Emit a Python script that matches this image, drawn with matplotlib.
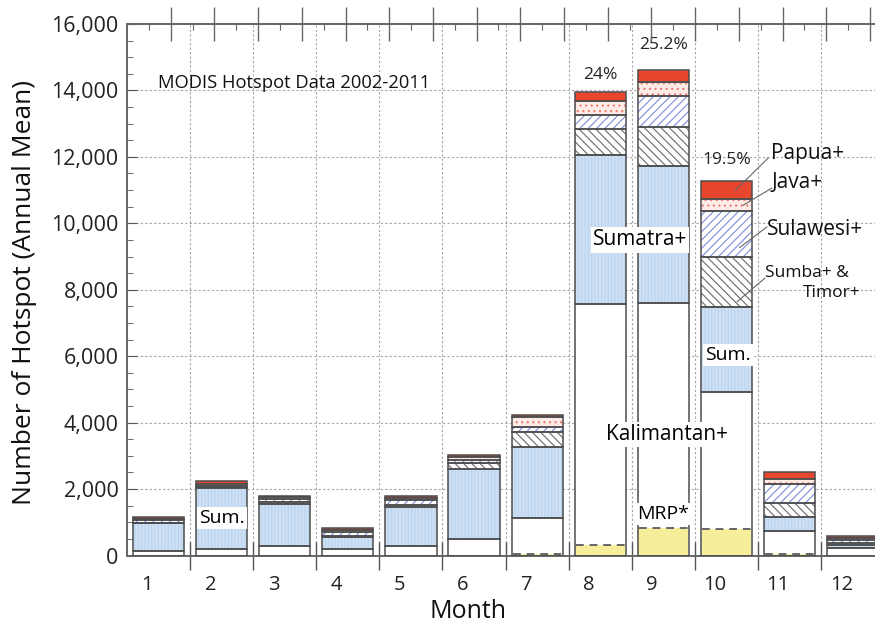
#!/usr/bin/env python3

import numpy as np
from matplotlib import pyplot as plt
from matplotlib.transforms import blended_transform_factory

plt.rcParams["font.family"] = ["Open Sans", "DejaVu Sans"]
plt.rcParams["hatch.linewidth"] = 0.8

months = np.arange(1, 13)
month_labels = [str(m) for m in months]

# annual mean hotspot counts per region (stacked from the bottom up)
kalimantan = [140, 200, 290, 200, 300, 500, 1130, 7580, 7610, 4930, 740, 230]
sumatra = [830, 1840, 1260, 360, 1170, 2110, 2140, 4470, 4110, 2560, 420, 90]
sumba_timor = [10, 20, 60, 30, 60, 180, 450, 780, 1170, 1510, 420, 60]
sulawesi = [90, 40, 90, 120, 150, 90, 160, 420, 940, 1360, 580, 90]
java = [30, 60, 60, 60, 60, 90, 300, 430, 420, 360, 150, 60]
papua = [60, 90, 30, 60, 50, 60, 60, 270, 360, 540, 210, 60]
# MRP hotspots (part of Kalimantan)
mrp = [0, 0, 0, 0, 0, 0, 50, 320, 830, 800, 50, 0]
mrp_share = {8: "24%", 9: "25.2%", 10: "19.5%"}

BAR_W = 0.81
EDGE = "#4d4d4d"

layers = [
    (kalimantan, "white", None, "white"),
    (sumatra, "#cde0f4", "|||||", "#bcd3ef"),
    (sumba_timor, "white", "\\\\\\\\", "#6a6a6a"),
    (sulawesi, "white", "////", "#7b8ad8"),
    (java, "#fdebe7", "...", "#ec7a6c"),
    (papua, "#e8472d", None, "#e8472d"),
]

fig = plt.figure(figsize=(8.75, 6.26), dpi=100)
ax = fig.add_axes([127 / 875, 1 - 555.5 / 626, 1 - 127 / 875, 531.5 / 626])

bottom = np.zeros(len(months))
tops = []
for vals, face, hatch, hcol in layers:
    vals = np.asarray(vals, dtype=float)
    ax.bar(months, vals, BAR_W, bottom=bottom, color=face, edgecolor=hcol,
           hatch=hatch, linewidth=0, zorder=2)
    ax.bar(months, vals, BAR_W, bottom=bottom, fill=False, edgecolor=EDGE,
           linewidth=1.1, zorder=3)
    bottom = bottom + vals
    tops.append(bottom.copy())
total = bottom

# MRP share of Kalimantan, yellow with a dashed top
mrp = np.asarray(mrp, dtype=float)
ax.bar(months, mrp, BAR_W - 0.02, color="#f7ee9c", linewidth=0, zorder=2.5)
has_mrp = mrp > 0
ax.hlines(mrp[has_mrp], months[has_mrp] - BAR_W / 2 + 0.02,
          months[has_mrp] + BAR_W / 2 - 0.02, colors="#666666",
          linestyles=(0, (4, 3)), linewidth=1.4, zorder=3.5)

ax.set_xlim(0.5, 0.5 + 748 / 63.1)
ax.set_ylim(0, 16000)

# axes styling
ax.set_xticks(np.arange(1.5, 12.5, 1.0))
ax.set_xticks(months, minor=True)
ax.set_xticklabels([])
ax.tick_params(axis="x", which="major", direction="inout", length=20,
               color="#555555", width=1.0)
ax.tick_params(axis="x", which="minor", direction="in", length=4,
               color="#555555", width=0.8)
ax.set_yticks(np.arange(0, 16001, 2000))
ax.set_yticks(np.arange(0, 16001, 500), minor=True)
ax.set_yticklabels([f"{v:,}" for v in range(0, 16001, 2000)], fontsize=15.5,
                   color="#222222")
ax.tick_params(axis="y", which="major", direction="in", length=7,
               color="#555555", pad=6)
ax.tick_params(axis="y", which="minor", direction="in", length=4,
               color="#555555")
ax.tick_params(top=False, right=False)
ax.set_axisbelow(True)
ax.grid(True, which="major", color="#a5a5a5", linestyle=(0, (2, 2)),
        linewidth=0.8, zorder=0)
for side in ("left", "bottom", "top"):
    ax.spines[side].set_color("#666666")
    ax.spines[side].set_linewidth(1.4)
ax.spines["right"].set_visible(False)

# top axis carries its own tick spacing
ax_top = ax.twiny()
ax_top.set_xlim(0, 748 / 43.7)
ax_top.set_xticks(np.arange(1, 18))
ax_top.set_xticks(np.arange(0.5, 17.5, 1.0), minor=True)
ax_top.set_xticklabels([])
ax_top.tick_params(axis="x", which="major", direction="inout", length=24,
                   color="#666666", width=1.0)
ax_top.tick_params(axis="x", which="minor", direction="in", length=4,
                   color="#666666", width=0.8)
for side in ("left", "bottom", "right", "top"):
    ax_top.spines[side].set_visible(False)

# month labels sit slightly left of each bar
trans = blended_transform_factory(ax.transData, ax.transAxes)
for m, lab in zip(months, month_labels):
    ax.text(m - 0.18, -0.055, lab, transform=trans, ha="center", va="center",
            fontsize=14.5, color="#222222")

fig.text(468 / 875, 1 - 612 / 626, "Month", ha="center", va="center",
         fontsize=18, color="#111111")
fig.text(25 / 875, 1 - 292 / 626, "Number of Hotspot (Annual Mean)",
         rotation=90, ha="center", va="center", fontsize=19, color="#111111")

ax.text(0.99, 14220, "MODIS Hotspot Data 2002-2011", ha="left", va="center",
        fontsize=13.2, color="#111111", zorder=5)

box = dict(facecolor="white", edgecolor="none", pad=1.5)
ax.text(8.63, 9500, "Sumatra+", ha="center", va="center", fontsize=15,
        bbox=box, zorder=6)
ax.text(9.06, 3630, "Kalimantan+", ha="center", va="center", fontsize=15,
        bbox=box, zorder=6)
ax.text(9.0, 1260, "MRP*", ha="center", va="center", fontsize=14,
        bbox=box, zorder=6)
ax.text(2.0, 1130, "Sum.", ha="center", va="center", fontsize=14,
        bbox=box, zorder=6)
ax.text(10.02, 6040, "Sum.", ha="center", va="center", fontsize=14,
        bbox=box, zorder=6)

label_offset = {8: 510, 9: 760, 10: 640}
for m, txt in mrp_share.items():
    ax.text(m, total[m - 1] + label_offset[m], txt, ha="center", va="center",
            fontsize=12.5, color="#222222", zorder=5)

# region labels with leader lines to the October bar
oct_i = 9
seg_top = {name: tops[k][oct_i] for k, name in enumerate(
    ["kal", "sum", "sumba", "sul", "java", "papua"])}
leaders = [
    ("Papua+", 10.71, 12115, 15, (10.66, 11965),
     (10.14, seg_top["papua"] - 0.5 * papua[oct_i])),
    ("Java+", 10.72, 11240, 15, (10.72, 11060),
     (10.26, seg_top["java"] - 0.5 * java[oct_i])),
    ("Sulawesi+", 10.64, 9800, 15, (10.64, 9890),
     (10.21, seg_top["sul"] - 0.8 * sulawesi[oct_i])),
    ("Sumba+ &", 10.61, 8500, 12.5, (10.61, 8350),
     (10.17, seg_top["sumba"] - 0.9 * sumba_timor[oct_i])),
]
for txt, tx, ty, fs, start, end in leaders:
    ax.text(tx, ty, txt, ha="left", va="center", fontsize=fs,
            color="#111111", zorder=6)
    ax.plot([start[0], end[0]], [start[1], end[1]], color="#666666",
            linewidth=0.8, zorder=5)
ax.text(11.21, 7900, "Timor+", ha="left", va="center", fontsize=12.5,
        color="#111111", zorder=6)

fig.savefig("out.png", dpi=100)
